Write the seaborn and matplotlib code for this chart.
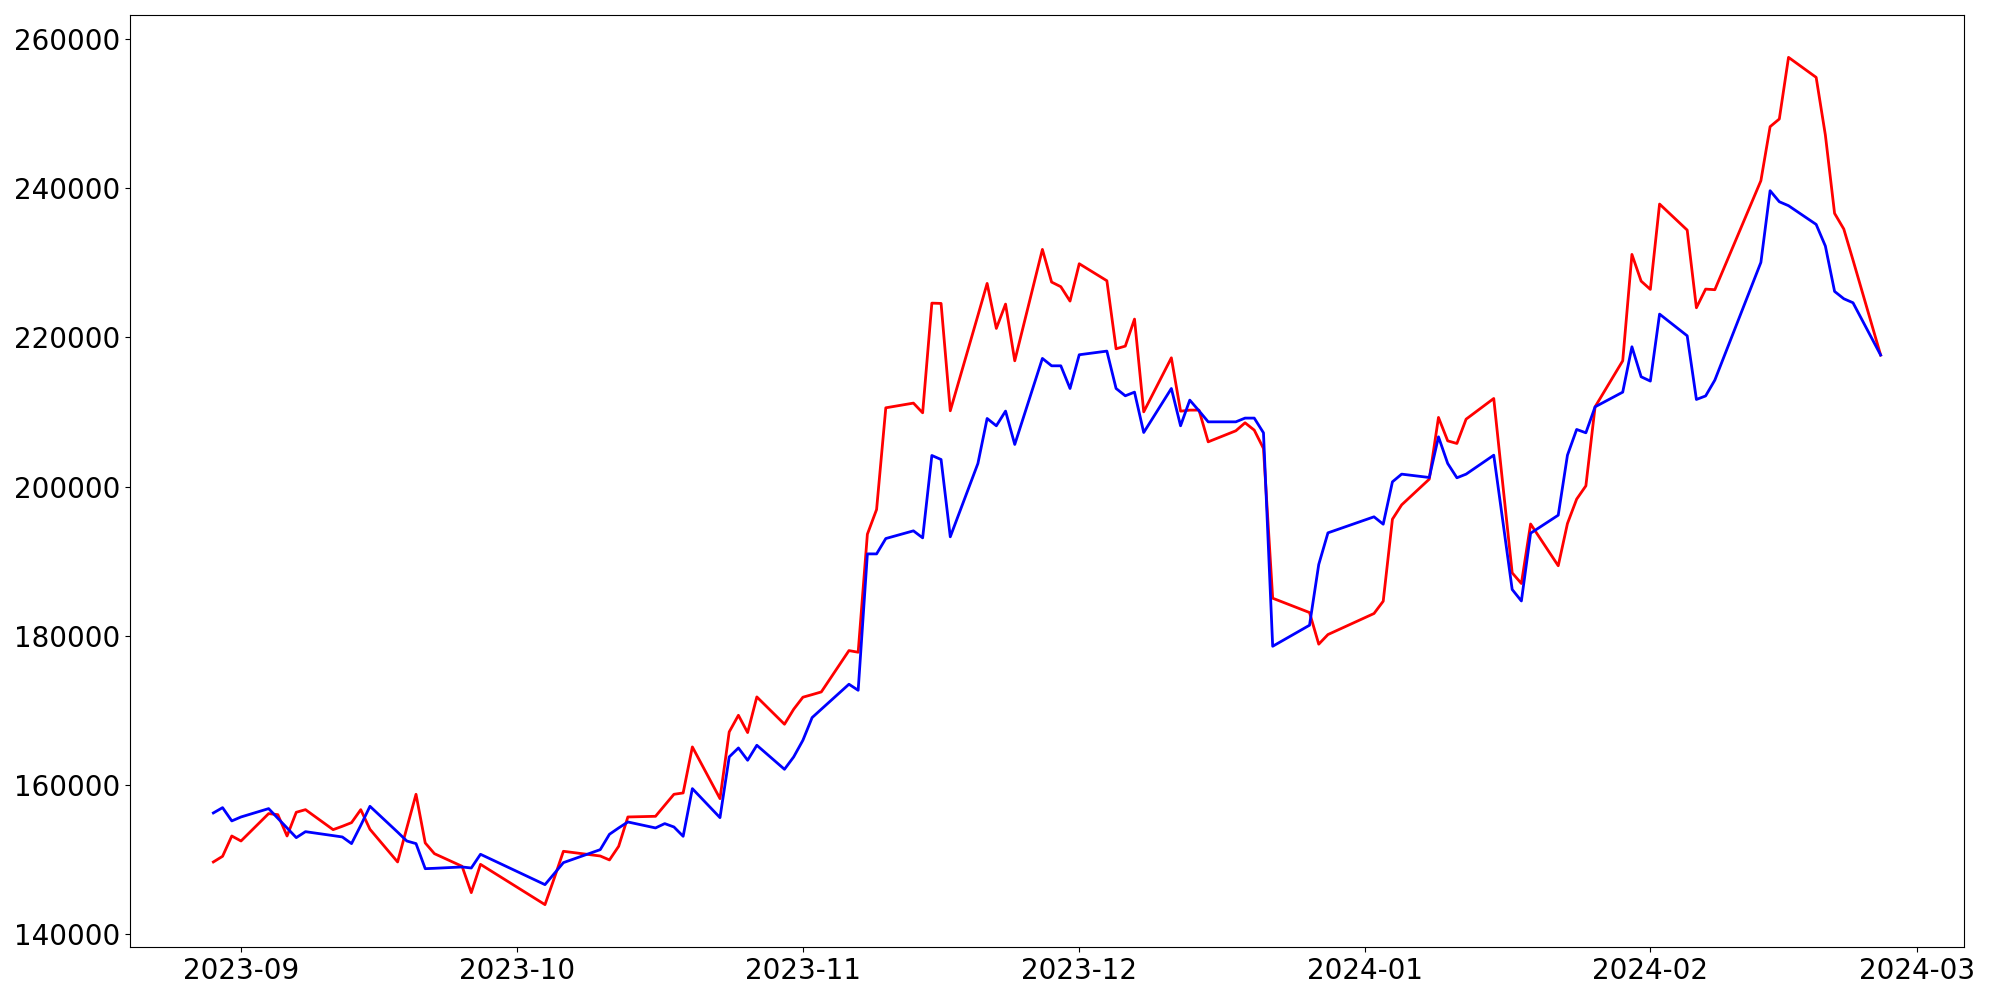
import matplotlib
matplotlib.use("Agg")
import matplotlib.pyplot as plt
import seaborn as sns
import pandas as pd

# Trading days (KRX calendar) per month
trade_days = {
    "2023-08": [29, 30, 31],
    "2023-09": [1, 4, 5, 6, 7, 8, 11, 12, 13, 14, 15, 18, 19, 20, 21, 22, 25, 26, 27],
    "2023-10": [4, 5, 6, 10, 11, 12, 13, 16, 17, 18, 19, 20, 23, 24, 25, 26, 27, 30, 31],
    "2023-11": [1, 2, 3, 6, 7, 8, 9, 10, 13, 14, 15, 16, 17, 20, 21, 22, 23, 24, 27, 28, 29, 30],
    "2023-12": [1, 4, 5, 6, 7, 8, 11, 12, 13, 14, 15, 18, 19, 20, 21, 22, 26, 27, 28],
    "2024-01": [2, 3, 4, 5, 8, 9, 10, 11, 12, 15, 16, 17, 18, 19, 22, 23, 24, 25, 26, 29, 30, 31],
    "2024-02": [1, 2, 5, 6, 7, 8, 13, 14, 15, 16, 19, 20, 21, 22, 23, 26],
}

red_values = [
    149700, 150460, 153180,
    152510, 156180, 156040, 153180, 156360, 156710, 154030, 154480, 154970, 156710,
    154080, 149700, 154260, 158770, 152250, 150810, 149120, 145590, 149380,
    143980, 147500, 151130, 150500, 149970, 151800, 155730, 155820, 157300, 158770,
    158950, 165120, 158190, 167130, 169360, 167040, 171820, 168160, 170170,
    171780, 172130, 172490, 178030, 177810, 193630, 196940, 210570, 211200, 209900,
    224600, 224560, 210170, 222950, 227240, 221210, 224470, 216870, 231800, 227420,
    226800, 224870,
    229880, 227600, 218480, 218840, 222460, 210030, 217270, 210120, 210260, 210260,
    206010, 207490, 208560, 207580, 205120, 185050, 183130, 178890, 180180,
    183000, 184650, 195640, 197560, 201010, 209280, 206140, 205790, 209050, 211820,
    200100, 188450, 187020, 195000, 189400, 195060, 198330, 200110, 210700, 216870,
    231130, 227550,
    226440, 237880, 234390, 223980, 226480, 226400, 241010, 248250, 249280, 257540,
    254860, 247130, 236630, 234530, 230370, 217640,
]

blue_values = [
    156270, 156980, 155200,
    155730, 156850, 155550, 154260, 152960, 153760, 153230, 153050, 152160, 154600,
    157160, 153700, 152510, 152160, 148800, 148850, 149030, 148890, 150730,
    146660, 148130, 149610, 151350, 153410, 154260, 155060, 154260, 154840, 154390,
    153140, 159530, 155640, 163780, 164980, 163330, 165340, 162120, 163780,
    166010, 169050, 170170, 173520, 172710, 190990, 190990, 193050, 194080, 193140,
    204180, 203640, 193280, 203110, 209140, 208160, 210130, 205660, 217190, 216200,
    216200, 213160,
    217680, 218170, 213160, 212180, 212670, 207260, 213160, 208160, 211600, 210170,
    208690, 208690, 209190, 209190, 207220, 178610, 181430, 189570, 193810,
    195960, 194970, 200650, 201680, 201230, 206680, 203110, 201190, 201680, 204220,
    195250, 186220, 184680, 193760, 196180, 204220, 207670, 207220, 210700, 212670,
    218750, 214730,
    214150, 223130, 220220, 211690, 212160, 214280, 230060, 239670, 238190, 237660,
    235150, 232250, 226170, 225190, 224650, 217640,
]

series_names = ["red_series", "blue_series"]
series_colors = ["red", "blue"]

dates = [pd.Timestamp(f"{ym}-{d:02d}") for ym, days in trade_days.items() for d in days]

df = pd.concat([
    pd.DataFrame({"date": dates, "value": red_values, "series": series_names[0]}),
    pd.DataFrame({"date": dates, "value": blue_values, "series": series_names[1]}),
], ignore_index=True)

fig, ax = plt.subplots(figsize=(20, 10), dpi=100)
fig.subplots_adjust(left=0.065, right=0.982, top=0.985, bottom=0.053)

sns.lineplot(data=df, x="date", y="value", hue="series", hue_order=series_names,
             palette=series_colors, linewidth=2, legend=False, ax=ax)

ax.set_xlabel("")
ax.set_ylabel("")
ax.tick_params(axis="both", labelsize=20)

fig.savefig("out.png", dpi=100)
